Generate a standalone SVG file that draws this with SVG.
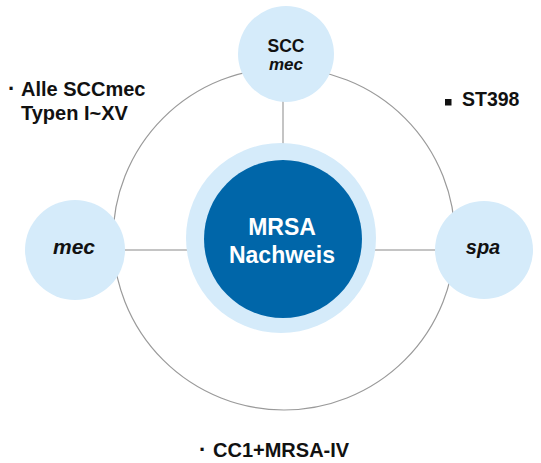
<svg xmlns="http://www.w3.org/2000/svg" width="541" height="463" viewBox="0 0 541 463">
<style>
.lbl{font-family:"Liberation Sans",Arial,Helvetica,sans-serif;font-weight:bold;fill:#111}
.it{font-style:italic}
.node{fill:#d5ebfa}
.conn{stroke:#c4c4c4;stroke-width:2;fill:none}
.ring{stroke:#9a9a9a;stroke-width:1.2;fill:none}
</style>
<rect width="541" height="463" fill="#ffffff"/>
<g id="ring"><circle class="ring" cx="284" cy="239" r="171"/></g>
<g id="connectors">
<line class="conn" x1="283" y1="100" x2="283" y2="146"/>
<line class="conn" x1="124" y1="250" x2="190" y2="250"/>
<line class="conn" x1="374" y1="250" x2="436" y2="250"/>
</g>
<g id="center">
<circle class="node" cx="281" cy="238" r="95"/>
<circle cx="283" cy="239" r="79" fill="#0066a9"/>
<text class="lbl" x="282" y="235" text-anchor="middle" font-size="23" style="fill:#fff">MRSA</text>
<text class="lbl" x="282" y="263" text-anchor="middle" font-size="23" style="fill:#fff">Nachweis</text>
</g>
<g id="sccmec">
<circle class="node" cx="286" cy="54" r="48"/>
<text class="lbl" x="286" y="52" text-anchor="middle" font-size="17.5">SCC</text>
<text class="lbl it" x="286" y="70" text-anchor="middle" font-size="17">mec</text>
</g>
<g id="mec">
<circle class="node" cx="75" cy="250" r="50"/>
<text class="lbl it" x="74" y="254" text-anchor="middle" font-size="21">mec</text>
</g>
<g id="spa">
<circle class="node" cx="484" cy="250" r="49"/>
<text class="lbl it" x="483" y="254" text-anchor="middle" font-size="20">spa</text>
</g>
<g id="note-alle">
<text class="lbl" x="8" y="96" font-size="22">·</text>
<text class="lbl" x="21" y="96" font-size="20">Alle SCCmec</text>
<text class="lbl" x="21" y="120" font-size="20">Typen I~XV</text>
</g>
<g id="note-st398">
<rect x="445" y="99" width="6.5" height="6.5" fill="#111"/>
<text class="lbl" x="462" y="106" font-size="19.5">ST398</text>
</g>
<g id="note-cc1">
<text class="lbl" x="199" y="457" font-size="22">·</text>
<text class="lbl" x="213" y="457" font-size="20">CC1+MRSA-IV</text>
</g>
</svg>
